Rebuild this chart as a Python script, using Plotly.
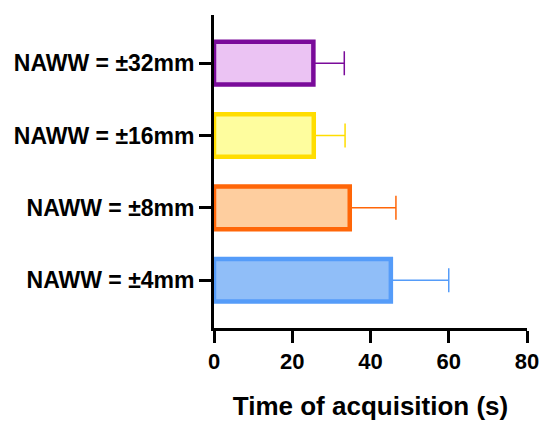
import plotly.graph_objects as go

categories = ["NAWW = ±4mm", "NAWW = ±8mm", "NAWW = ±16mm", "NAWW = ±32mm"]
means = [45.2, 34.7, 25.5, 25.4]
errors = [14.8, 11.8, 8.0, 7.9]
fill_colors = ["#90BEF8", "#FECE9F", "#FEFD9E", "#EBC3F3"]
line_colors = ["#559CF9", "#FF6608", "#FFDD00", "#7A0B9A"]
x_ticks = [0, 20, 40, 60, 80]
x_title = "Time of acquisition (s)"

FONT = "Liberation Sans, Arial, sans-serif"

fig = go.Figure()
for cat, m, e, fc, lc in zip(categories, means, errors, fill_colors, line_colors):
    fig.add_trace(go.Bar(
        y=[cat], x=[m], orientation="h", width=0.59,
        marker=dict(color=fc, line=dict(color=lc, width=4.5)),
        error_x=dict(type="data", array=[e], arrayminus=[0], symmetric=False,
                     color=lc, thickness=1.5, width=12),
        showlegend=False,
    ))

fig.update_layout(
    width=542, height=421,
    margin=dict(l=214, r=15, t=15, b=93),
    plot_bgcolor="white", paper_bgcolor="white",
    barmode="overlay",
    font=dict(family=FONT, color="black"),
)
fig.update_xaxes(
    range=[0, 80], tickvals=x_ticks, ticktext=[str(v) for v in x_ticks],
    automargin=False,
    showgrid=False, zeroline=False,
    showline=True, linecolor="black", linewidth=2.8,
    ticks="outside", ticklen=12, tickwidth=2.5, tickcolor="black",
    tickfont=dict(family=FONT, size=22, weight="bold", color="black"),
    title=dict(text=x_title, font=dict(family=FONT, size=26, weight="bold", color="black"), standoff=26),
)
fig.update_yaxes(
    categoryorder="array", categoryarray=categories,
    range=[-0.66, 3.665],
    automargin=False,
    showgrid=False, zeroline=False,
    showline=True, linecolor="black", linewidth=2.8,
    ticks="outside", ticklen=12, tickwidth=2.5, tickcolor="black",
    tickfont=dict(family=FONT, size=23, weight="bold", color="black"),
)

fig.write_html("out.html")
